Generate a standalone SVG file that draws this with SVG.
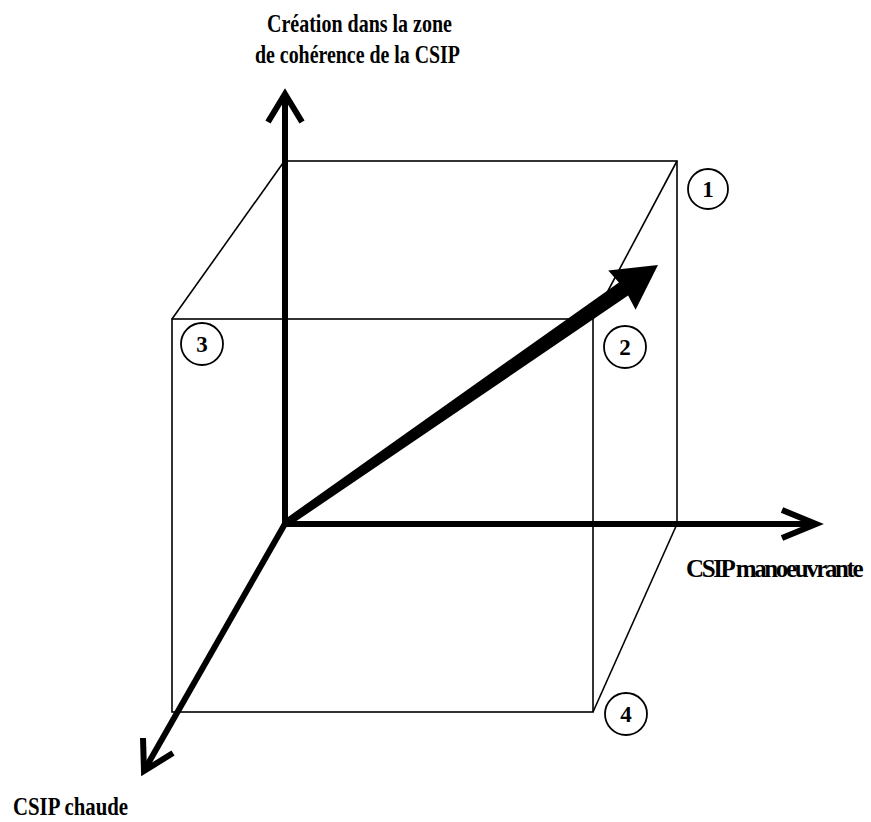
<svg xmlns="http://www.w3.org/2000/svg" width="871" height="822" viewBox="0 0 871 822">
<style>
.thin{fill:none;stroke:#000;stroke-width:1.6}
.axis{fill:none;stroke:#000;stroke-width:6;stroke-linejoin:miter;stroke-linecap:butt}
.lbl{font-family:"Liberation Serif","Times New Roman",serif;font-weight:bold;font-size:25px;fill:#000}
.num{font-family:"Liberation Serif","Times New Roman",serif;font-weight:bold;font-size:23px;fill:#000;text-anchor:middle}
.circ{fill:none;stroke:#000;stroke-width:1.8}
</style>
<rect width="871" height="822" fill="#fff"/>
<g id="cube">
<rect class="thin" x="285" y="161" width="392" height="363"/>
<rect class="thin" x="172" y="319" width="421" height="393"/>
<line class="thin" x1="283" y1="163" x2="172" y2="319"/>
<line class="thin" x1="677" y1="161" x2="593" y2="319"/>
<line class="thin" x1="677" y1="524" x2="593" y2="712"/>
</g>
<g id="connectors">
<path class="axis" d="M285,527 L285,96"/>
<path class="axis" d="M268,122 L285,94 L302,122"/>
<path class="axis" d="M282,524 L814,524"/>
<path class="axis" d="M782,510 L816,524 L782,538"/>
<path class="axis" d="M286,522 L145,769"/>
<path class="axis" d="M143,738 L144,771 L173,753"/>
<polygon fill="#000" points="282.7,520.7 618.9,282.4 608.2,270.4 658,265 635.6,309.8 628.1,295.6 287.3,527.3"/>
</g>
<g id="label-y"><text class="lbl" x="267" y="32" textLength="185" lengthAdjust="spacingAndGlyphs">Création dans la zone</text>
<text class="lbl" x="255" y="63" textLength="205" lengthAdjust="spacingAndGlyphs">de cohérence de la CSIP</text></g>
<g id="label-x"><text class="lbl" x="686" y="577" style="letter-spacing:-2.4px">CSIP manoeuvrante</text></g>
<g id="label-z"><text class="lbl" x="13" y="815" textLength="115" lengthAdjust="spacingAndGlyphs">CSIP chaude</text></g>
<g id="n1"><circle class="circ" cx="708" cy="189" r="20"/><text class="num" x="708" y="197">1</text></g>
<g id="n2"><circle class="circ" cx="625" cy="347" r="21"/><text class="num" x="625" y="355">2</text></g>
<g id="n3"><circle class="circ" cx="202" cy="344" r="21"/><text class="num" x="202" y="352">3</text></g>
<g id="n4"><circle class="circ" cx="626" cy="714" r="21"/><text class="num" x="626" y="722">4</text></g>
</svg>
